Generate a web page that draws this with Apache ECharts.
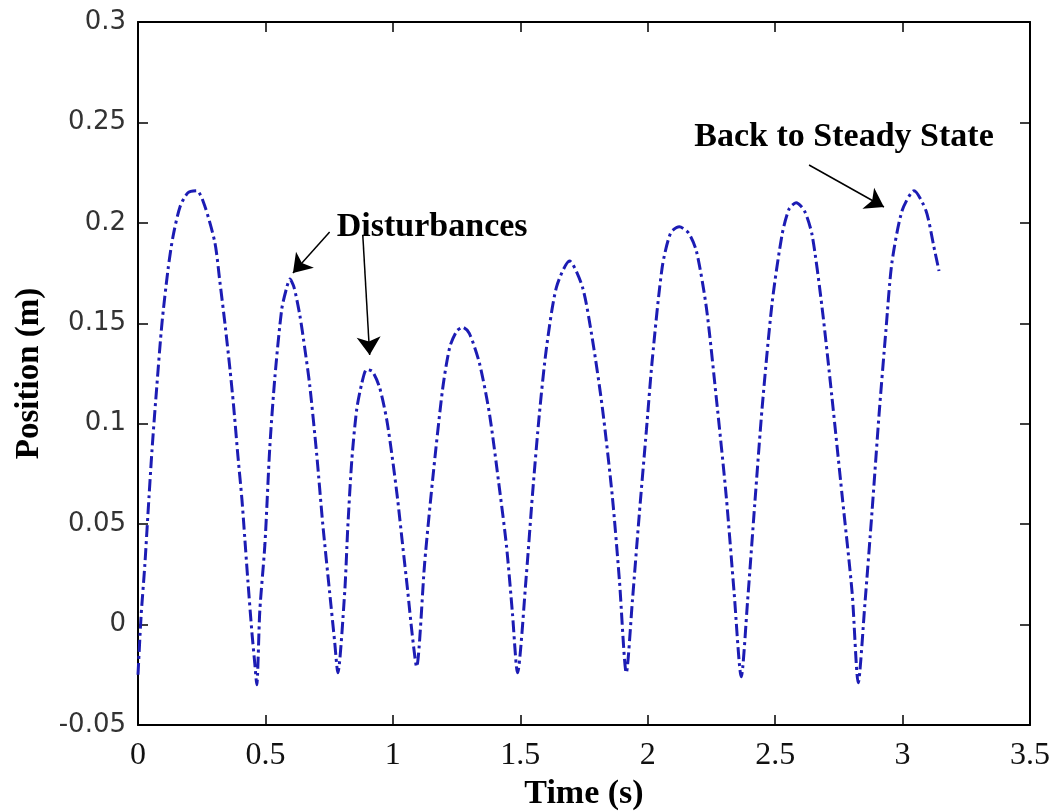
<!DOCTYPE html>
<html>
<head>
<meta charset="utf-8">
<script src="https://cdn.jsdelivr.net/npm/echarts@6/dist/echarts.min.js"></script>
<style>
  html, body { margin: 0; padding: 0; background: #fff; }
  #main { width: 1057px; height: 812px; }
</style>
</head>
<body>
<div id="main"></div>
<script>
// time (s) and position (m)
const timeValues = [
  0, 0.012, 0.027, 0.039, 0.055, 0.074, 0.094, 0.118, 0.137, 0.165, 0.196, 0.231, 0.263, 0.302, 0.321, 0.341, 0.361, 0.375, 0.392, 0.408, 0.419, 0.431, 0.447, 0.458, 0.466,
  0.478, 0.498, 0.517, 0.537, 0.564, 0.584, 0.596, 0.612, 0.635, 0.655, 0.674, 0.701, 0.725, 0.752, 0.772, 0.784,
  0.811, 0.823, 0.839, 0.858, 0.878, 0.897, 0.920, 0.948, 0.976, 0.999, 1.019, 1.038, 1.058, 1.076, 1.093,
  1.125, 1.156, 1.195, 1.223, 1.250, 1.274, 1.300, 1.340, 1.379, 1.419, 1.446, 1.469, 1.489,
  1.524, 1.548, 1.575, 1.603, 1.642, 1.693, 1.744, 1.783, 1.822, 1.861, 1.889, 1.916,
  1.940, 1.967, 1.995, 2.018, 2.057, 2.090, 2.124, 2.160, 2.191, 2.230, 2.269, 2.308, 2.339, 2.367,
  2.392, 2.420, 2.449, 2.488, 2.527, 2.555, 2.582, 2.615, 2.645, 2.684, 2.723, 2.763, 2.802, 2.826,
  2.852, 2.880, 2.908, 2.935, 2.958, 2.998, 3.045, 3.092, 3.123, 3.143
];
const positionValues = [
  -0.025, 0.004, 0.030, 0.055, 0.087, 0.119, 0.150, 0.177, 0.193, 0.208, 0.215, 0.216, 0.208, 0.190, 0.171, 0.150, 0.127, 0.109, 0.084, 0.062, 0.043, 0.022, -0.004, -0.019, -0.030,
  0.007, 0.040, 0.088, 0.123, 0.157, 0.168, 0.172, 0.168, 0.154, 0.137, 0.119, 0.085, 0.050, 0.016, -0.009, -0.024,
  0.016, 0.048, 0.082, 0.107, 0.120, 0.127, 0.126, 0.118, 0.102, 0.082, 0.062, 0.040, 0.017, -0.005, -0.021,
  0.031, 0.072, 0.117, 0.138, 0.146, 0.148, 0.145, 0.130, 0.105, 0.067, 0.039, 0.006, -0.024,
  0.025, 0.065, 0.105, 0.138, 0.168, 0.181, 0.168, 0.142, 0.108, 0.064, 0.022, -0.024,
  0.012, 0.055, 0.097, 0.132, 0.178, 0.195, 0.198, 0.195, 0.186, 0.158, 0.113, 0.064, 0.016, -0.026,
  0.012, 0.060, 0.108, 0.160, 0.194, 0.207, 0.210, 0.206, 0.194, 0.158, 0.113, 0.064, 0.016, -0.029,
  0.010, 0.056, 0.105, 0.147, 0.180, 0.206, 0.216, 0.206, 0.188, 0.176
];

const xTickLabels = ['0', '0.5', '1', '1.5', '2', '2.5', '3', '3.5'];
const yTickLabels = ['-0.05', '0', '0.05', '0.1', '0.15', '0.2', '0.25', '0.3'];
const xMin = 0, xMax = 3.5, xStep = 0.5;
const yMin = -0.05, yMax = 0.3, yStep = 0.05;

// annotation texts and arrows (data coordinates)
const notes = [
  { text: 'Disturbances', at: [0.78, 0.198] },
  { text: 'Back to Steady State', at: [2.183, 0.2425] }
];
const arrows = [
  { from: [0.752, 0.1954], to: [0.608, 0.175] },
  { from: [0.882, 0.194], to: [0.909, 0.1342] },
  { from: [2.633, 0.2288], to: [2.927, 0.2079] }
];

const chart = echarts.init(document.getElementById('main'));

const axisLine = { show: true, onZero: false, lineStyle: { color: '#000', width: 2 } };
const tickIn = { show: true, inside: true, length: 10, lineStyle: { color: '#000', width: 1.5 } };

const option = {
  animation: false,
  backgroundColor: '#fff',
  grid: { left: 138, right: 27, top: 22, bottom: 87, outerBoundsMode: 'none' },
  xAxis: [
    {
      type: 'value', position: 'bottom', min: xMin, max: xMax, interval: xStep,
      axisLine: axisLine, axisTick: tickIn, splitLine: { show: false },
      axisLabel: {
        margin: 15, color: '#111', fontFamily: 'Liberation Serif', fontSize: 32,
        formatter: v => xTickLabels[Math.round((v - xMin) / xStep)]
      },
      name: 'Time (s)', nameLocation: 'middle', nameGap: 50,
      nameTextStyle: { fontFamily: 'Liberation Serif', fontWeight: 'bold', fontSize: 34, color: '#000' }
    },
    {
      type: 'value', position: 'top', min: xMin, max: xMax, interval: xStep,
      axisLine: axisLine, axisTick: tickIn, axisLabel: { show: false }, splitLine: { show: false }
    }
  ],
  yAxis: [
    {
      type: 'value', position: 'left', min: yMin, max: yMax, interval: yStep,
      axisLine: axisLine, axisTick: tickIn, splitLine: { show: false },
      axisLabel: {
        margin: 12, color: '#333', fontFamily: 'DejaVu Sans', fontSize: 26,
        formatter: v => yTickLabels[Math.round((v - yMin) / yStep)]
      },
      name: 'Position (m)', nameLocation: 'middle', nameGap: 92,
      nameTextStyle: { fontFamily: 'Liberation Serif', fontWeight: 'bold', fontSize: 33, color: '#000' }
    },
    {
      type: 'value', position: 'right', min: yMin, max: yMax, interval: yStep,
      axisLine: axisLine, axisTick: tickIn, axisLabel: { show: false }, splitLine: { show: false }
    }
  ],
  series: [
    {
      name: 'Position',
      type: 'line',
      xAxisIndex: 0,
      yAxisIndex: 0,
      data: timeValues.map((t, i) => [t, positionValues[i]]),
      showSymbol: false,
      smooth: 0.25,
      lineStyle: { color: '#1c1cb4', width: 3, type: [12, 4, 3, 4] },
      markLine: {
        silent: true,
        symbol: ['none', 'arrow'],
        symbolSize: 18,
        label: { show: false },
        lineStyle: { color: '#000', width: 1.5, type: 'solid' },
        itemStyle: { color: '#000' },
        data: arrows.map(a => [{ coord: a.from }, { coord: a.to }])
      },
      markPoint: {
        silent: true,
        symbol: 'circle',
        symbolSize: 0,
        label: {
          show: true, position: 'right', distance: 0,
          fontFamily: 'Liberation Serif', fontWeight: 'bold', fontSize: 34, color: '#000',
          formatter: p => p.name
        },
        data: notes.map(n => ({ name: n.text, coord: n.at }))
      }
    }
  ]
};

chart.setOption(option);
</script>
</body>
</html>
